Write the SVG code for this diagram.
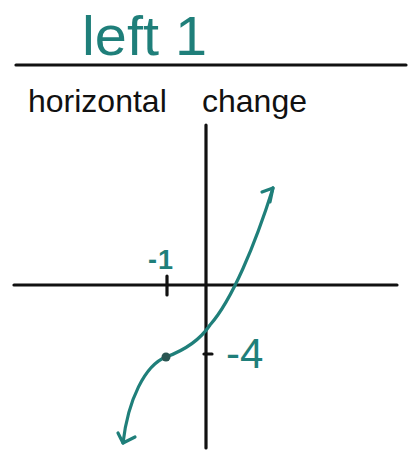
<svg xmlns="http://www.w3.org/2000/svg" width="417" height="460" viewBox="0 0 417 460">
<style>
.ink{stroke:#111;stroke-width:3.2;stroke-linecap:round;fill:none}
.teal{stroke:#1f7f7a;stroke-width:3.2;stroke-linecap:round;stroke-linejoin:round;fill:none}
.tt{fill:#1f7f7a;font-family:"Liberation Sans",Arial,sans-serif}
.bt{fill:#111;font-family:"Liberation Sans",Arial,sans-serif}
</style>
<rect width="417" height="460" fill="#fff"/>
<g id="title">
<text class="tt" x="82" y="55" font-size="56" textLength="125" lengthAdjust="spacingAndGlyphs">left 1</text>
</g>
<g id="fraction-line"><line class="ink" x1="16" y1="65" x2="406" y2="65" stroke-width="3.6"/></g>
<g id="denominator">
<text class="bt" x="28" y="112" font-size="32">horizontal<tspan x="202">change</tspan></text>
</g>
<g id="axes">
<line class="ink" x1="206" y1="125" x2="206" y2="448"/>
<line class="ink" x1="14" y1="285" x2="397" y2="285"/>
</g>
<g id="ticks">
<line class="ink" x1="167" y1="276" x2="167" y2="295" stroke="#1d4f4c" stroke-width="4"/>
<line class="ink" x1="204" y1="354" x2="212" y2="354" stroke="#1d4f4c" stroke-width="3"/>
<text class="tt" x="148" y="269" font-size="27" font-weight="bold" textLength="25" lengthAdjust="spacing">-1</text>
<text class="tt" x="226" y="368" font-size="42">-4</text>
</g>
<g id="curve">
<path class="teal" d="M123,443 C128,400 145,365 166,357 C185,350 200,340 210,325 C232,300 255,245 273,188"/>
<path class="teal" d="M262,192 L273,188 L270,202"/>
<path class="teal" d="M118,433 L123,443 L135,437"/>
<circle cx="166" cy="357" r="4.5" fill="#2a5552"/>
</g>
</svg>
